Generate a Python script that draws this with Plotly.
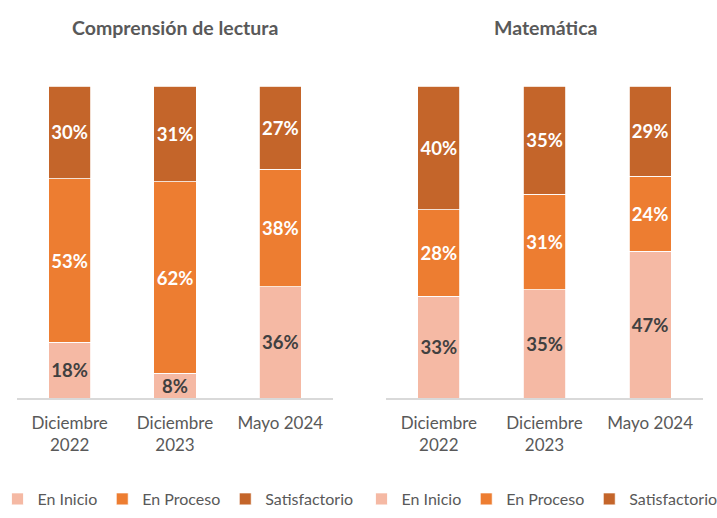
import plotly.graph_objects as go

categories = ["Diciembre<br>2022", "Diciembre<br>2023", "Mayo 2024"]
series_names = ["En Inicio", "En Proceso", "Satisfactorio"]

lectura_inicio = [18, 8, 36]
lectura_proceso = [53, 62, 38]
lectura_satisf = [30, 31, 27]

mate_inicio = [33, 35, 47]
mate_proceso = [28, 31, 24]
mate_satisf = [40, 35, 29]

colors = ["#F5B9A4", "#ED7D31", "#C4652A"]
text_colors = ["#404040", "#FFFFFF", "#FFFFFF"]

FONT = "Lato"
GRAY = "#595959"

fig = go.Figure()

panels = [
    ("x", "y", "legend", [lectura_inicio, lectura_proceso, lectura_satisf]),
    ("x2", "y2", "legend2", [mate_inicio, mate_proceso, mate_satisf]),
]

for xa, ya, leg, data in panels:
    for name, vals, col, tcol in zip(series_names, data, colors, text_colors):
        fig.add_trace(go.Bar(
            x=categories, y=vals, name=name,
            xaxis=xa, yaxis=ya, legend=leg,
            marker=dict(color=col, line=dict(color="#FFFFFF", width=0.8)),
            text=[f"{v}%" for v in vals], texttemplate="%{text}",
            textposition="inside", insidetextanchor="middle", textangle=0,
            textfont=dict(family=FONT, size=18.5, color=tcol, weight="bold"),
            hoverinfo="skip",
        ))

axis_common = dict(
    showgrid=False, zeroline=False, ticks="", showline=True,
    linecolor="#D9D9D9", linewidth=1.5,
    tickfont=dict(family=FONT, size=17, color=GRAY),
    ticklabelstandoff=9,
    fixedrange=True,
)
yaxis_common = dict(range=[0, 100], visible=False, fixedrange=True)

W, H = 717, 518
T, B = 86, 120
PH = H - T - B

legend_common = dict(
    orientation="h", xanchor="center",
    y=-(499 - (H - B)) / PH, yanchor="middle",
    font=dict(family=FONT, size=16, color=GRAY),
    itemwidth=30, traceorder="normal", itemclick=False,
    bgcolor="rgba(0,0,0,0)",
)

fig.update_layout(
    width=W, height=H,
    margin=dict(l=0, r=0, t=T, b=B, pad=0, autoexpand=False),
    barmode="stack", barnorm="percent", bargap=0.6,
    plot_bgcolor="white", paper_bgcolor="white",
    font=dict(family=FONT, color=GRAY),
    uniformtext=dict(minsize=18.5, mode="show"),
    xaxis=dict(domain=[17 / W, 333 / W], **axis_common),
    xaxis2=dict(domain=[386 / W, 703 / W], anchor="y2", **axis_common),
    yaxis=dict(domain=[0, 1], **yaxis_common),
    yaxis2=dict(domain=[0, 1], anchor="x2", **yaxis_common),
    legend=dict(x=178 / W, **legend_common),
    legend2=dict(x=542 / W, **legend_common),
    showlegend=True,
    annotations=[
        dict(text="<b>Comprensión de lectura</b>", x=175 / W, xref="paper",
             y=1 + (T - 27) / PH, yref="paper", xanchor="center", yanchor="middle",
             showarrow=False, font=dict(family=FONT, size=19.5, color=GRAY)),
        dict(text="<b>Matemática</b>", x=545 / W, xref="paper",
             y=1 + (T - 27) / PH, yref="paper", xanchor="center", yanchor="middle",
             showarrow=False, font=dict(family=FONT, size=19.5, color=GRAY)),
    ],
)

fig.write_html("out.html", config={"displayModeBar": False},
               post_script="document.body.style.margin='0';document.body.style.overflow='hidden';")
